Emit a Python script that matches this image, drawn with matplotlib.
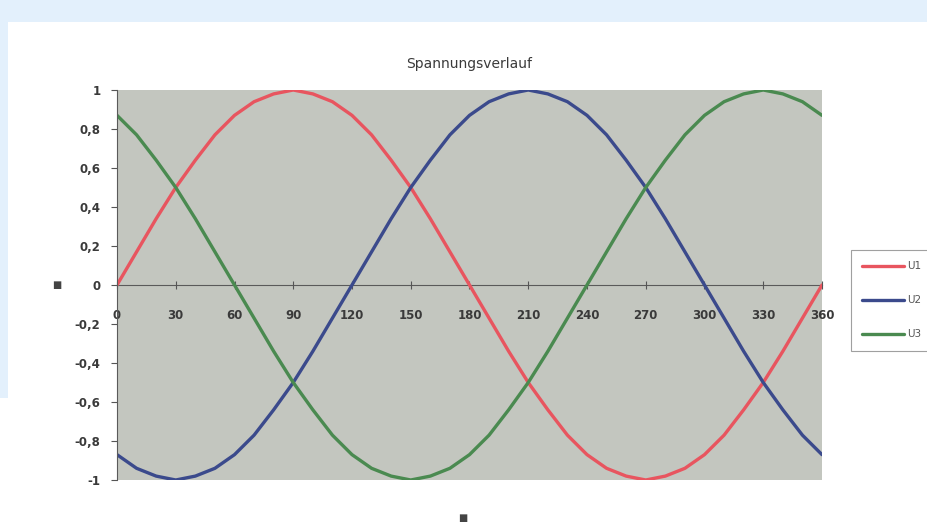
import matplotlib.pyplot as plt
from matplotlib.patches import Rectangle

# angle in degrees, 10 degree steps
phi = list(range(0, 361, 10))

u1 = [0, .17, .34, .5, .64, .77, .87, .94, .98, 1, .98, .94, .87, .77, .64, .5, .34, .17,
      0, -.17, -.34, -.5, -.64, -.77, -.87, -.94, -.98, -1, -.98, -.94, -.87, -.77, -.64,
      -.5, -.34, -.17, 0]
u2 = [-.87, -.94, -.98, -1, -.98, -.94, -.87, -.77, -.64, -.5, -.34, -.17, 0, .17, .34, .5,
      .64, .77, .87, .94, .98, 1, .98, .94, .87, .77, .64, .5, .34, .17, 0, -.17, -.34, -.5,
      -.64, -.77, -.87]
u3 = [.87, .77, .64, .5, .34, .17, 0, -.17, -.34, -.5, -.64, -.77, -.87, -.94, -.98, -1,
      -.98, -.94, -.87, -.77, -.64, -.5, -.34, -.17, 0, .17, .34, .5, .64, .77, .87, .94,
      .98, 1, .98, .94, .87]

series_names = ['U1', 'U2', 'U3']
series_colors = ['#e8555f', '#3b4a8c', '#4a8a50']
x_ticks = list(range(0, 361, 30))
y_ticks = [1, 0.8, 0.6, 0.4, 0.2, 0, -0.2, -0.4, -0.6, -0.8, -1]

W, H = 927, 528
fig = plt.figure(figsize=(W / 100, H / 100), dpi=100)
fig.patch.set_facecolor('#e3f0fc')

# white panel of the screenshot
fig.add_artist(Rectangle((8 / W, 0), 1, 1 - 22 / H, transform=fig.transFigure,
                         facecolor='white', edgecolor='none', zorder=0))
fig.add_artist(Rectangle((0, 0), 8 / W, 1 - 398 / H, transform=fig.transFigure,
                         facecolor='white', edgecolor='none', zorder=0))

ax = fig.add_axes([117 / W, 1 - 480 / H, (822 - 117) / W, (480 - 90) / H])
ax.set_facecolor('#c3c6bf')

for vals, name, col in zip([u1, u2, u3], series_names, series_colors):
    ax.plot(phi, vals, color=col, linewidth=2.4, label=name, solid_capstyle='round')

ax.set_xlim(0, 360)
ax.set_ylim(-1, 1)

# x axis drawn through zero like in Excel
for s in ['top', 'right']:
    ax.spines[s].set_visible(False)
ax.spines['bottom'].set_position(('data', 0))
ax.spines['bottom'].set_color('#5a5a5a')
ax.spines['left'].set_color('#5a5a5a')
ax.spines['bottom'].set_zorder(1)

ax.set_xticks(x_ticks)
ax.set_xticklabels([str(t) for t in x_ticks])
ax.set_yticks(y_ticks)
ax.set_yticklabels([('%g' % t).replace('.', ',') for t in y_ticks])
ax.tick_params(axis='x', direction='inout', length=6, pad=14, labelsize=8.5,
               colors='#555555', labelcolor='#3a3a3a')
ax.tick_params(axis='y', direction='out', length=4, pad=8, labelsize=8.5,
               colors='#555555', labelcolor='#3a3a3a')
for lbl in ax.get_xticklabels() + ax.get_yticklabels():
    lbl.set_fontweight('bold')

ax.set_title('Spannungsverlauf', fontsize=10, color='#3a3a3a', pad=16)
fig.text(57 / W, 1 - 285 / H, '■', fontsize=7, color='#444444', ha='center', va='center')
fig.text(463 / W, 1 - 518 / H, '■', fontsize=7, color='#444444', ha='center', va='center')

leg = fig.legend(loc='upper left', bbox_to_anchor=(851 / W, 1 - 250 / H), frameon=True,
                 fontsize=7.5, handlelength=4.0, labelspacing=2.3, borderpad=1.1,
                 handletextpad=0.3, borderaxespad=0)
leg.get_frame().set_edgecolor('#888888')
leg.get_frame().set_linewidth(0.8)
leg.get_frame().set_boxstyle('square', pad=0)
for t in leg.get_texts():
    t.set_color('#555555')

fig.savefig('out.png', dpi=100)
